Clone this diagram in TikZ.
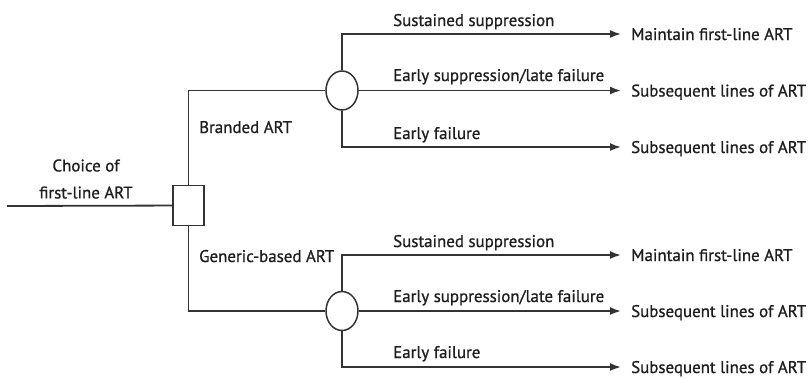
\documentclass[tikz,border=0pt]{standalone}
\usepackage{fontspec}
\setmainfont{PT Sans}[FakeBold=0.9]
\usetikzlibrary{shapes.geometric,arrows.meta,positioning}
\definecolor{treeline}{HTML}{333333}
\definecolor{treetext}{HTML}{1E1E1E}

\begin{document}
\begin{tikzpicture}[x=1pt, y=-1pt,
    conn/.style={draw=treeline, line width=1.8pt},
    arr/.style={conn, -{Latex[length=11pt,width=8pt]}},
    decbox/.style={rectangle, draw=treeline, line width=1.5pt, minimum width=31pt, minimum height=40pt, inner sep=0pt, fill=white},
    chance/.style={ellipse, draw=treeline, line width=1.5pt, minimum width=32pt, minimum height=39pt, inner sep=0pt, fill=white},
    lbl/.style={anchor=base west, inner sep=0pt, text=treetext, font=\fontsize{16.9}{27}\selectfont},
    outc/.style={anchor=west, inner xsep=10pt, inner ysep=0pt, text height=12pt, text depth=0pt, text=treetext, font=\fontsize{16.9}{19}\selectfont}]

    \useasboundingbox (0,0) rectangle (809,378);

    \coordinate (root) at (7,206);
    \node[decbox] (dec) at (188.5,205.5) {};
    \node[chance] (ch1) at (342,90.5) {};
    \node[chance] (ch2) at (342,311) {};

    \node[lbl, anchor=center, align=center] (choice) at (86,179) {Choice of\\first-line ART};
    \node[lbl] (brand) at (199,133) {Branded ART};
    \node[lbl] (generic) at (199,262) {Generic-based ART};

    \node[lbl] (b11) at (393,26) {Sustained suppression};
    \node[lbl] (b12) at (393,81) {Early suppression/late failure};
    \node[lbl] (b13) at (393,139) {Early failure};
    \node[lbl] (b21) at (393,247) {Sustained suppression};
    \node[lbl] (b22) at (393,302) {Early suppression/late failure};
    \node[lbl] (b23) at (393,358) {Early failure};

    \node[outc] (o11) at (621,34) {Maintain first-line ART};
    \node[outc] (o12) at (621,90.5) {Subsequent lines of ART};
    \node[outc] (o13) at (621,147) {Subsequent lines of ART};
    \node[outc] (o21) at (621,255) {Maintain first-line ART};
    \node[outc] (o22) at (621,311) {Subsequent lines of ART};
    \node[outc] (o23) at (621,367) {Subsequent lines of ART};

    \draw[conn] (root) -- (dec);
    \draw[conn] (dec.north) |- (ch1);
    \draw[conn] (dec.south) |- (ch2);

    \draw[arr] (ch1.north) |- (o11.west);
    \draw[arr] (ch1.east) -- (o12.west);
    \draw[arr] (ch1.south) |- (o13.west);
    \draw[arr] (ch2.north) |- (o21.west);
    \draw[arr] (ch2.east) -- (o22.west);
    \draw[arr] (ch2.south) |- (o23.west);

\end{tikzpicture}
\end{document}
